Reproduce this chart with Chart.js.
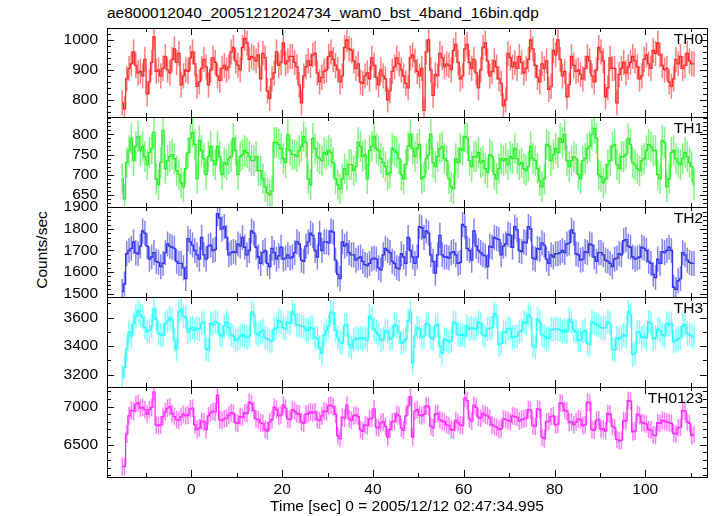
<!DOCTYPE html>
<html>
<head>
<meta charset="utf-8">
<script src="https://cdn.jsdelivr.net/npm/chart.js@4.4.1/dist/chart.umd.min.js"></script>
<style>
    body { margin: 0; background: #fff; }
    #wrap { position: relative; width: 717px; height: 516px; font-family: "Liberation Sans", Arial, sans-serif; color: #000; }
    #wrap canvas { position: absolute; left: 0; }
    #title { position: absolute; left: 107px; top: 4px; font-size: 15.5px; white-space: nowrap; }
    #ylab { position: absolute; left: 42px; top: 250px; font-size: 15.5px; white-space: nowrap; transform: translate(-50%, -50%) rotate(-90deg); }
</style>
</head>
<body>
<div id="wrap">
    <div id="title">ae800012040_20051212024734_wam0_bst_4band_16bin.qdp</div>
    <div id="ylab">Counts/sec</div>
</div>
<script>
// 0.5 s bins, first bin centre
const binStart = -15.25;
const binWidth = 0.5;

const th0 = [790,770,870,905,920,960,915,890,895,880,
    935,820,860,925,1010,895,900,880,905,945,
    900,890,935,970,925,955,850,880,900,895,
    940,960,920,845,860,905,935,910,850,900,
    940,925,880,865,905,915,900,910,960,975,
    930,915,900,975,1005,990,935,945,940,930,
    950,870,955,940,830,805,870,890,960,915,
    925,990,920,930,945,945,925,910,850,790,
    880,910,930,915,950,955,890,860,875,895,
    900,945,960,935,915,900,860,880,975,1000,
    970,965,930,905,920,860,855,880,890,870,
    940,915,875,850,900,880,870,800,830,895,
    910,940,920,900,880,855,840,
    940,950,930,895,880,905,765,960,1000,900,
    815,885,880,955,940,910,920,915,900,965,
    985,925,870,880,970,985,925,905,935,890,
    840,900,975,990,930,880,895,930,910,870,
    855,780,800,955,940,910,925,905,945,925,
    890,905,935,1000,970,915,875,860,920,905,
    930,835,845,965,950,1000,935,880,895,810,
    850,945,915,895,900,885,870,905,945,930,
    880,860,900,975,960,930,810,840,940,905,
    905,790,885,905,925,890,910,925,945,930,
    910,870,880,935,950,920,905,965,955,990,
    950,915,900,905,860,845,870,935,920,945,
    905,915,955,930,920,920];

const th1 = [690,640,730,760,790,735,770,795,760,770,
    745,725,755,765,805,690,675,730,810,715,
    735,745,750,740,710,700,680,670,715,755,
    790,805,775,690,785,760,740,700,745,770,
    735,725,770,745,700,730,725,740,745,790,
    760,700,745,750,760,755,745,735,735,745,
    710,710,690,670,655,650,660,780,780,775,
    765,740,730,800,760,750,750,745,760,770,
    795,780,690,675,790,765,745,740,735,755,
    750,760,755,730,690,675,665,690,715,700,
    725,725,710,720,780,770,745,750,690,760,
    770,795,765,760,740,730,720,700,705,765,
    760,755,740,700,690,725,770,
    800,765,745,765,775,690,695,740,750,800,
    730,720,745,765,770,740,735,690,670,665,
    740,730,765,760,795,790,735,720,745,745,
    755,730,735,715,705,750,745,700,690,715,
    740,735,740,725,745,740,765,740,725,730,
    715,710,720,770,740,735,715,685,670,690,
    775,770,735,750,765,755,790,780,800,735,
    720,735,745,740,700,690,735,740,765,770,
    800,815,790,700,695,680,690,725,735,770,
    775,725,715,745,745,750,790,775,730,725,
    715,710,735,740,760,775,770,760,760,700,
    690,785,780,670,690,755,760,740,730,725,
    740,755,745,730,720,675];

const th2 = [1510,1545,1685,1700,1710,1740,1690,1685,1720,1790,
    1780,1720,1660,1670,1690,1650,1645,1625,1640,1690,
    1730,1720,1715,1710,1650,1640,1640,1620,1570,1755,
    1740,1725,1700,1680,1660,1760,1680,1660,1720,1725,
    1700,1705,1870,1850,1800,1810,1760,1680,1690,1695,
    1690,1730,1720,1760,1715,1680,1700,1790,1780,1715,
    1670,1640,1690,1700,1640,1625,1710,1690,1660,1675,
    1715,1660,1665,1680,1665,1670,1690,1740,1730,1655,
    1650,1720,1740,1780,1770,1700,1670,1780,1700,1740,
    1740,1735,1790,1785,1655,1590,1570,1740,1720,1730,
    1690,1680,1680,1655,1665,1670,1650,1635,1630,1640,
    1660,1665,1660,1620,1610,1680,1710,1700,1690,1650,
    1640,1620,1615,1685,1670,1640,1760,
    1700,1670,1640,1670,1810,1805,1760,1790,1780,1680,
    1650,1595,1680,1770,1680,1670,1670,1665,1690,1695,
    1680,1640,1645,1820,1810,1710,1700,1655,1790,1720,
    1700,1690,1680,1675,1625,1720,1715,1760,1755,1750,
    1680,1720,1730,1775,1770,1715,1810,1795,1700,1695,
    1740,1735,1810,1800,1665,1660,1710,1705,1735,1725,
    1660,1640,1680,1670,1685,1685,1690,1700,1690,1730,
    1735,1795,1780,1685,1680,1655,1660,1695,1690,1730,
    1725,1670,1650,1690,1690,1680,1655,1650,1640,1625,
    1660,1665,1685,1680,1745,1750,1720,1715,1670,1660,
    1665,1670,1715,1710,1700,1650,1640,1590,1575,1660,
    1640,1695,1690,1700,1715,1700,1530,1520,1560,1570,
    1690,1680,1655,1645,1640,1640];

const th3 = [3180,3250,3380,3500,3470,3560,3610,3650,3620,3600,
    3530,3500,3510,3540,3660,3590,3490,3480,3475,3560,
    3575,3600,3585,3440,3380,3640,3660,3610,3600,3500,
    3520,3530,3510,3525,3520,3560,3570,3380,3370,3560,
    3550,3570,3565,3480,3470,3540,3570,3530,3480,3470,
    3440,3450,3470,3480,3470,3460,3470,3640,3620,3490,
    3480,3500,3510,3460,3450,3440,3435,3520,3530,3580,
    3570,3530,3520,3570,3560,3640,3620,3550,3545,3540,
    3535,3510,3515,3530,3525,3460,3455,3390,3350,3480,
    3510,3540,3640,3630,3510,3460,3430,3420,3545,3550,
    3410,3390,3440,3455,3450,3460,3450,3460,3440,3610,
    3590,3520,3500,3480,3440,3450,3510,3500,3450,3460,
    3550,3540,3500,3420,3430,3450,3580,
    3640,3280,3470,3530,3520,3460,3470,3560,3550,3460,
    3450,3540,3550,3400,3350,3450,3440,3430,3440,3570,
    3560,3480,3475,3480,3470,3540,3520,3530,3520,3525,
    3570,3560,3480,3470,3520,3525,3530,3630,3610,3410,
    3420,3500,3495,3525,3520,3460,3465,3470,3500,3510,
    3570,3560,3620,3600,3400,3390,3590,3570,3480,3470,
    3460,3455,3520,3515,3525,3520,3515,3500,3510,3500,
    3590,3570,3510,3500,3440,3445,3500,3510,3420,3410,
    3570,3560,3550,3545,3530,3525,3530,3570,3560,3380,
    3370,3460,3450,3465,3480,3470,3640,3620,3340,3350,
    3500,3495,3460,3470,3455,3570,3560,3450,3460,3520,
    3510,3480,3470,3560,3550,3560,3430,3440,3450,3460,
    3540,3550,3490,3480,3470,3460];

const th0123 = [6210,6215,6640,6880,6950,6940,7030,7050,6980,6990,
    6960,6900,6960,6990,7190,6760,6750,6760,6870,6930,
    6980,7000,6910,6870,6830,6820,6870,6900,6880,6890,
    6970,6980,6760,6700,6720,6810,6800,6700,6880,6920,
    6940,6930,7150,6830,6820,6840,6850,6890,6920,6910,
    6790,6780,6870,6860,6920,6910,7060,7040,6950,6840,
    6830,6790,6780,6700,6680,6800,6830,6990,6960,6880,
    6890,7020,6980,6840,6830,6960,6940,6910,6900,6800,
    6780,6900,6910,6930,6920,6930,6830,6820,6880,6940,
    6930,7010,7020,7000,6900,6620,6580,6860,6850,7020,
    6840,6820,6880,6890,6870,6700,6680,6760,6750,6840,
    6850,6970,6730,6720,6790,6800,6740,6600,6700,6800,
    6810,6900,6880,6720,6690,6880,7010,
    7130,6600,6940,6960,6890,6880,6900,7010,7000,6740,
    6720,6900,6910,6830,6810,6800,6760,6750,6700,6690,
    6820,6790,6760,6750,7110,7080,6840,6810,7020,6990,
    6860,6850,6910,6890,6880,6850,6760,6740,6730,6700,
    6710,6840,6830,6820,6800,6880,6870,6860,6810,6830,
    6840,6850,6960,6950,6750,6740,6970,6960,6600,6580,
    6800,6810,6870,6880,6760,6770,7050,7040,6950,6940,
    6790,6800,6760,6800,6840,6830,6750,6760,7060,7050,
    6700,6690,6820,6830,6700,6710,6680,6910,6900,6740,
    6720,6570,6550,6560,6820,6810,7080,7070,6670,6680,
    6900,6880,6790,6780,6770,6700,6690,6630,6620,6790,
    6780,6820,6810,6800,6790,6780,6650,6640,6720,6730,
    6950,6940,6800,6780,6620,6640];

const panelNames = ['TH0', 'TH1', 'TH2', 'TH3', 'TH0123'];
const panelSeries = [th0, th1, th2, th3, th0123];
const panelErrors = [42, 38, 58, 84, 117];   // 1 sigma, counts/sec
const yMin = [743, 620, 1485, 3113, 6076];
const yMax = [1040, 843, 1901, 3745, 7258];
const yMajor = [100, 50, 100, 200, 500];
const yMinor = [20, 10, 20, 100, 100];
const xMin = -18.6, xMax = 113.6, xMajor = 20, xMinor = 10;

const lineColors = ['rgb(255,40,40)', 'rgb(40,240,40)', 'rgb(50,50,240)', 'rgb(40,255,255)', 'rgb(255,40,255)'];
const barColors = ['rgba(255,40,40,0.6)', 'rgba(40,240,40,0.6)', 'rgba(50,50,240,0.6)', 'rgba(40,255,255,0.6)', 'rgba(255,40,255,0.6)'];

// panel edges in page pixels
const edges = [28, 117, 207, 297, 387, 477];
const PAD = 22;   // canvas overhang above/below each panel
const FONT = '"Liberation Sans", Arial, sans-serif';

Chart.defaults.font.family = FONT;
Chart.defaults.font.size = 15.5;
Chart.defaults.color = '#000';

// ticks at every multiple of step inside the range
function stepTicks(scale, step) {
    const out = [];
    for (let v = Math.ceil(scale.min / step) * step; v <= scale.max; v += step) out.push({ value: v });
    scale.ticks = out;
}

// vertical error bars, drawn under the step line
const errorBars = {
    id: 'errorBars',
    beforeDatasetsDraw(chart) {
        const { ctx, chartArea: a, scales: { x, y } } = chart;
        const ds = chart.data.datasets[0];
        ctx.save();
        ctx.beginPath();
        ctx.rect(a.left, a.top, a.right - a.left, a.bottom - a.top);
        ctx.clip();
        ctx.strokeStyle = ds.barColor;
        ctx.lineWidth = 1.5;
        ds.data.forEach(pt => {
            const px = x.getPixelForValue(pt.x);
            ctx.beginPath();
            ctx.moveTo(px, y.getPixelForValue(pt.y - ds.errorBar));
            ctx.lineTo(px, y.getPixelForValue(pt.y + ds.errorBar));
            ctx.stroke();
        });
        ctx.restore();
    }
};

// frame, inward ticks on all sides, panel name
const panelDecor = {
    id: 'panelDecor',
    afterDraw(chart, args, opts) {
        const { ctx, chartArea: a, scales: { x, y } } = chart;
        const seg = (x1, y1, x2, y2) => { ctx.beginPath(); ctx.moveTo(x1, y1); ctx.lineTo(x2, y2); ctx.stroke(); };
        ctx.save();
        ctx.strokeStyle = '#000';
        ctx.lineWidth = 1;
        for (let t = Math.ceil(xMin / xMinor) * xMinor; t <= xMax; t += xMinor) {
            const px = Math.round(x.getPixelForValue(t)) + 0.5;
            const len = t % xMajor === 0 ? 7 : 4;
            seg(px, a.top, px, a.top + len);
            seg(px, a.bottom, px, a.bottom - len);
        }
        for (let v = Math.ceil(y.min / opts.minor) * opts.minor; v <= y.max; v += opts.minor) {
            const py = Math.round(y.getPixelForValue(v)) + 0.5;
            const len = v % opts.major === 0 ? 7 : 4;
            seg(a.left, py, a.left + len, py);
            seg(a.right, py, a.right - len, py);
        }
        ctx.strokeRect(Math.round(a.left) + 0.5, Math.round(a.top) + 0.5, Math.round(a.right - a.left), Math.round(a.bottom - a.top));
        ctx.fillStyle = '#000';
        ctx.font = '15.5px ' + FONT;
        ctx.textAlign = 'right';
        ctx.textBaseline = 'alphabetic';
        ctx.fillText(opts.label, a.right - 4, a.top + 15.5);
        ctx.restore();
    }
};

const wrap = document.getElementById('wrap');

panelNames.forEach((name, p) => {
    const last = p === panelNames.length - 1;
    const top = edges[p], bottom = edges[p + 1];
    const cTop = top - PAD;
    const cH = last ? 516 - cTop : (bottom - top) + 2 * PAD;
    const canvas = document.createElement('canvas');
    canvas.width = 717;
    canvas.height = cH;
    canvas.style.top = cTop + 'px';
    wrap.appendChild(canvas);

    const points = panelSeries[p].map((v, i) => ({ x: binStart + i * binWidth, y: v }));

    new Chart(canvas, {
        type: 'line',
        data: {
            datasets: [{
                data: points,
                borderColor: lineColors[p],
                barColor: barColors[p],
                errorBar: panelErrors[p],
                borderWidth: 1.3,
                pointRadius: 0,
                stepped: 'middle',
                fill: false
            }]
        },
        options: {
            responsive: false,
            animation: false,
            events: [],
            layout: { padding: { left: 0, right: 10, top: PAD, bottom: last ? 0 : PAD } },
            plugins: {
                legend: { display: false },
                tooltip: { enabled: false },
                panelDecor: { label: name, major: yMajor[p], minor: yMinor[p] }
            },
            scales: {
                x: {
                    type: 'linear',
                    min: xMin,
                    max: xMax,
                    display: last,
                    grid: { display: false, drawTicks: false },
                    border: { display: false },
                    ticks: { autoSkip: false, maxRotation: 0, padding: 3, callback: v => String(v) },
                    title: { display: true, text: 'Time [sec] 0 = 2005/12/12 02:47:34.995', padding: { top: 0, bottom: 0 } },
                    afterBuildTicks: s => stepTicks(s, xMajor),
                    afterFit: s => { if (last) s.height = 516 - edges[5]; }
                },
                y: {
                    type: 'linear',
                    min: yMin[p],
                    max: yMax[p],
                    grid: { display: false, drawTicks: false },
                    border: { display: false },
                    ticks: { autoSkip: false, padding: 9, callback: v => String(v) },
                    afterBuildTicks: s => stepTicks(s, yMajor[p]),
                    afterFit: s => { s.width = 107; }
                }
            }
        },
        plugins: [errorBars, panelDecor]
    });
});
</script>
</body>
</html>
